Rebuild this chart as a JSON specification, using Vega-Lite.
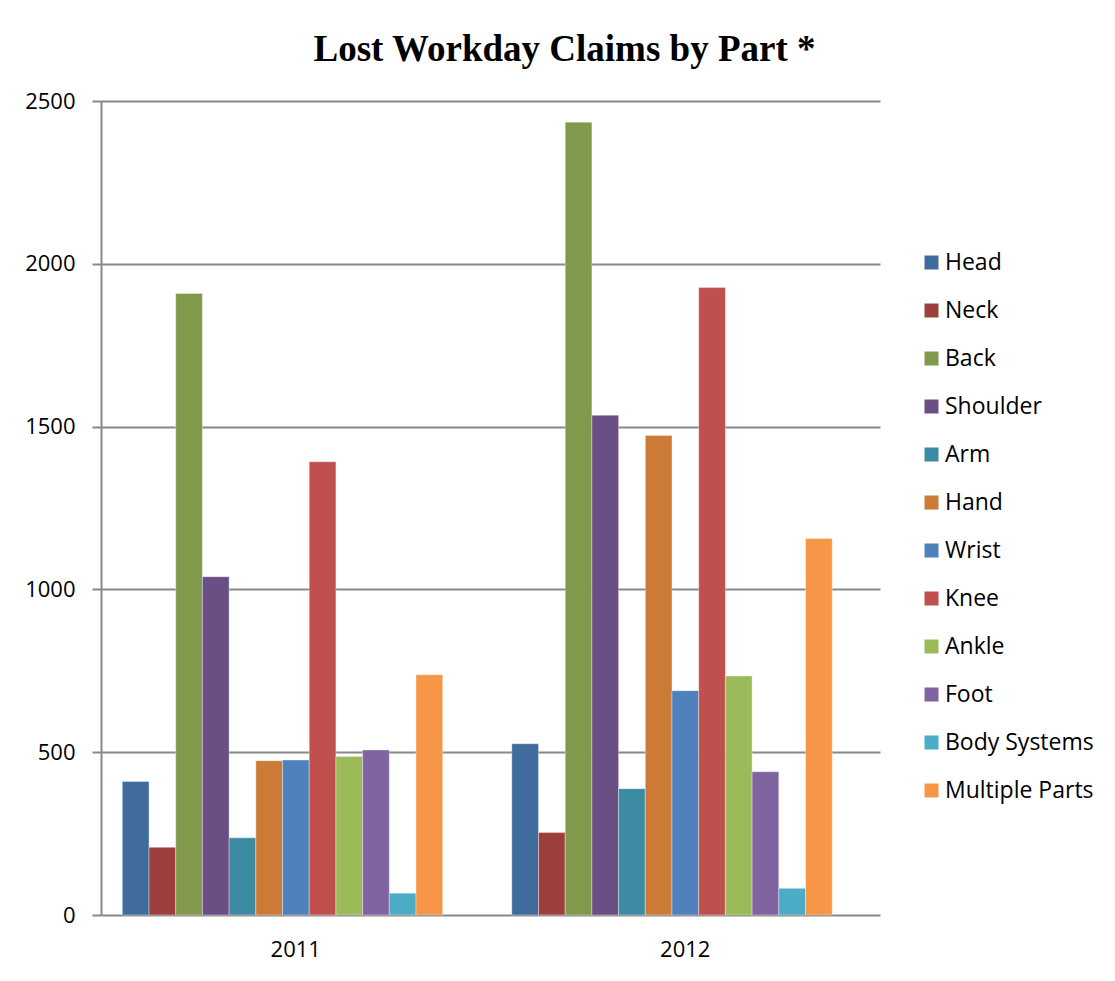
{
  "$schema": "https://vega.github.io/schema/vega-lite/v6.json",
  "width": 779,
  "height": 814,
  "padding": {"left": 5, "top": 31, "right": 5, "bottom": 5},
  "background": "white",
  "title": {
    "text": "Lost Workday Claims by Part *",
    "font": "Liberation Serif",
    "fontWeight": "bold",
    "fontSize": 37,
    "color": "#000000",
    "anchor": "middle",
    "frame": "group",
    "dx": 74,
    "offset": 21
  },
  "config": {
    "view": {"stroke": null},
    "font": "Open Sans"
  },
  "data": {
    "values": [
      {"year": "2011", "part": "Head", "claims": 410},
      {"year": "2011", "part": "Neck", "claims": 208},
      {"year": "2011", "part": "Back", "claims": 1909},
      {"year": "2011", "part": "Shoulder", "claims": 1039},
      {"year": "2011", "part": "Arm", "claims": 237},
      {"year": "2011", "part": "Hand", "claims": 474},
      {"year": "2011", "part": "Wrist", "claims": 476},
      {"year": "2011", "part": "Knee", "claims": 1392},
      {"year": "2011", "part": "Ankle", "claims": 487},
      {"year": "2011", "part": "Foot", "claims": 507},
      {"year": "2011", "part": "Body Systems", "claims": 67},
      {"year": "2011", "part": "Multiple Parts", "claims": 738},
      {"year": "2012", "part": "Head", "claims": 526},
      {"year": "2012", "part": "Neck", "claims": 253},
      {"year": "2012", "part": "Back", "claims": 2435},
      {"year": "2012", "part": "Shoulder", "claims": 1535},
      {"year": "2012", "part": "Arm", "claims": 388},
      {"year": "2012", "part": "Hand", "claims": 1473},
      {"year": "2012", "part": "Wrist", "claims": 689},
      {"year": "2012", "part": "Knee", "claims": 1927},
      {"year": "2012", "part": "Ankle", "claims": 734},
      {"year": "2012", "part": "Foot", "claims": 440},
      {"year": "2012", "part": "Body Systems", "claims": 82},
      {"year": "2012", "part": "Multiple Parts", "claims": 1156}
    ]
  },
  "mark": {"type": "bar", "stroke": "#ffffff", "strokeWidth": 0.6, "strokeOpacity": 0.6},
  "encoding": {
    "x": {
      "field": "year",
      "type": "nominal",
      "scale": {"paddingInner": 0.0403, "paddingOuter": 0.02015},
      "axis": {
        "title": null,
        "labelAngle": 0,
        "labelFontSize": 22,
        "labelColor": "#000000",
        "labelFont": "Open Sans",
        "ticks": false,
        "domain": false,
        "labelPadding": 24
      }
    },
    "xOffset": {
      "field": "part",
      "type": "nominal",
      "sort": ["Head", "Neck", "Back", "Shoulder", "Arm", "Hand", "Wrist", "Knee", "Ankle", "Foot", "Body Systems", "Multiple Parts"],
      "scale": {"paddingInner": 0, "paddingOuter": 1, "align": 0.252}
    },
    "y": {
      "field": "claims",
      "type": "quantitative",
      "scale": {"domain": [0, 2500], "nice": false},
      "axis": {
        "title": null,
        "values": [0, 500, 1000, 1500, 2000, 2500],
        "format": "d",
        "labelFontSize": 22,
        "labelColor": "#000000",
        "labelFont": "Open Sans",
        "tickSize": 9,
        "tickColor": "#888888",
        "tickWidth": 2,
        "domainColor": "#888888",
        "domainWidth": 2,
        "gridColor": "#888888",
        "gridWidth": 2,
        "labelPadding": 17,
        "minExtent": 96,
        "maxExtent": 96
      }
    },
    "color": {
      "field": "part",
      "type": "nominal",
      "scale": {
        "domain": ["Head", "Neck", "Back", "Shoulder", "Arm", "Hand", "Wrist", "Knee", "Ankle", "Foot", "Body Systems", "Multiple Parts"],
        "range": ["#3F6B9D", "#9D403D", "#80994A", "#6A4F84", "#3D8BA2", "#CC7B37", "#4F81BC", "#C0504E", "#9BBA58", "#8064A2", "#4BACC6", "#F79646"]
      },
      "legend": {
        "title": null,
        "orient": "none",
        "legendX": 819,
        "legendY": 150,
        "symbolType": "square",
        "symbolSize": 196,
        "symbolStrokeWidth": 0,
        "labelFontSize": 23,
        "labelFont": "Open Sans",
        "labelColor": "#000000",
        "rowPadding": 24,
        "labelOffset": 2,
        "labelLimit": 300
      }
    }
  }
}
